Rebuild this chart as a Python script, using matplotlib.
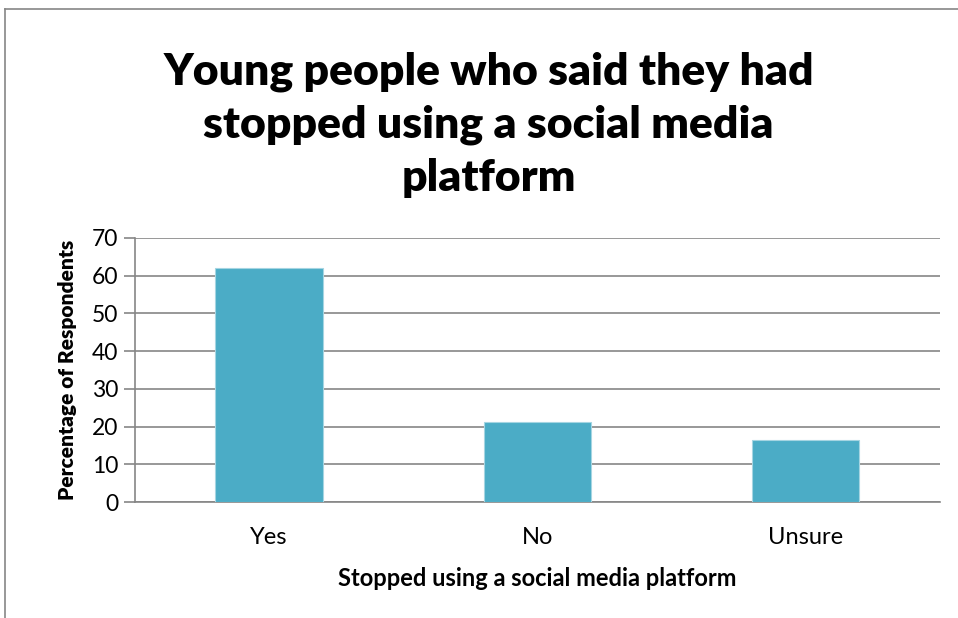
import matplotlib.pyplot as plt
from matplotlib.lines import Line2D

categories = ['Yes', 'No', 'Unsure']
percentages = [62, 21.3, 16.5]
y_ticks = [0, 10, 20, 30, 40, 50, 60, 70]

title = 'Young people who said they had\nstopped using a social media\nplatform'
x_title = 'Stopped using a social media platform'
y_title = 'Percentage of Respondents'

plt.rcParams['font.family'] = ['Lato', 'DejaVu Sans']

fig = plt.figure(figsize=(9.58, 6.18), dpi=100)
ax = fig.add_axes([0.1409, 0.1877, 0.9812 - 0.1409, 0.6149 - 0.1877])

x = range(len(categories))
ax.bar(x, percentages, width=0.4, color='#4bacc6', edgecolor='#a5d5e2',
       linewidth=0.8, zorder=3)

ax.set_xlim(-0.5, len(categories) - 0.5)
ax.set_ylim(0, 70)
ax.set_yticks(y_ticks)
ax.set_xticks(list(x))
ax.set_xticklabels(categories)

ax.grid(axis='y', color='#868686', linewidth=1.2, zorder=0)
for side in ['top', 'right']:
    ax.spines[side].set_visible(False)
ax.spines['left'].set_color('#868686')
ax.spines['bottom'].set_color('#868686')
ax.spines['left'].set_linewidth(1.2)
ax.spines['bottom'].set_linewidth(1.2)

ax.tick_params(axis='y', length=8, width=1.2, color='#868686', labelsize=16.5, pad=4)
ax.tick_params(axis='x', length=0, labelsize=17, pad=18)

ax.set_xlabel(x_title, fontsize=17, fontweight='bold', labelpad=14)
ax.set_ylabel(y_title, fontsize=15, fontweight='heavy', labelpad=11)

fig.text(0.510, 0.798, title, ha='center', va='center', fontsize=32,
         fontweight='heavy', linespacing=1.38)

# chart area border (only top and left edges fall inside the image)
fig.add_artist(Line2D([5 / 958, 1], [1 - 9 / 618, 1 - 9 / 618],
                      transform=fig.transFigure, color='#868686', lw=1.2))
fig.add_artist(Line2D([5 / 958, 5 / 958], [0, 1 - 9 / 618],
                      transform=fig.transFigure, color='#868686', lw=1.2))

fig.savefig('out.png', dpi=100)
